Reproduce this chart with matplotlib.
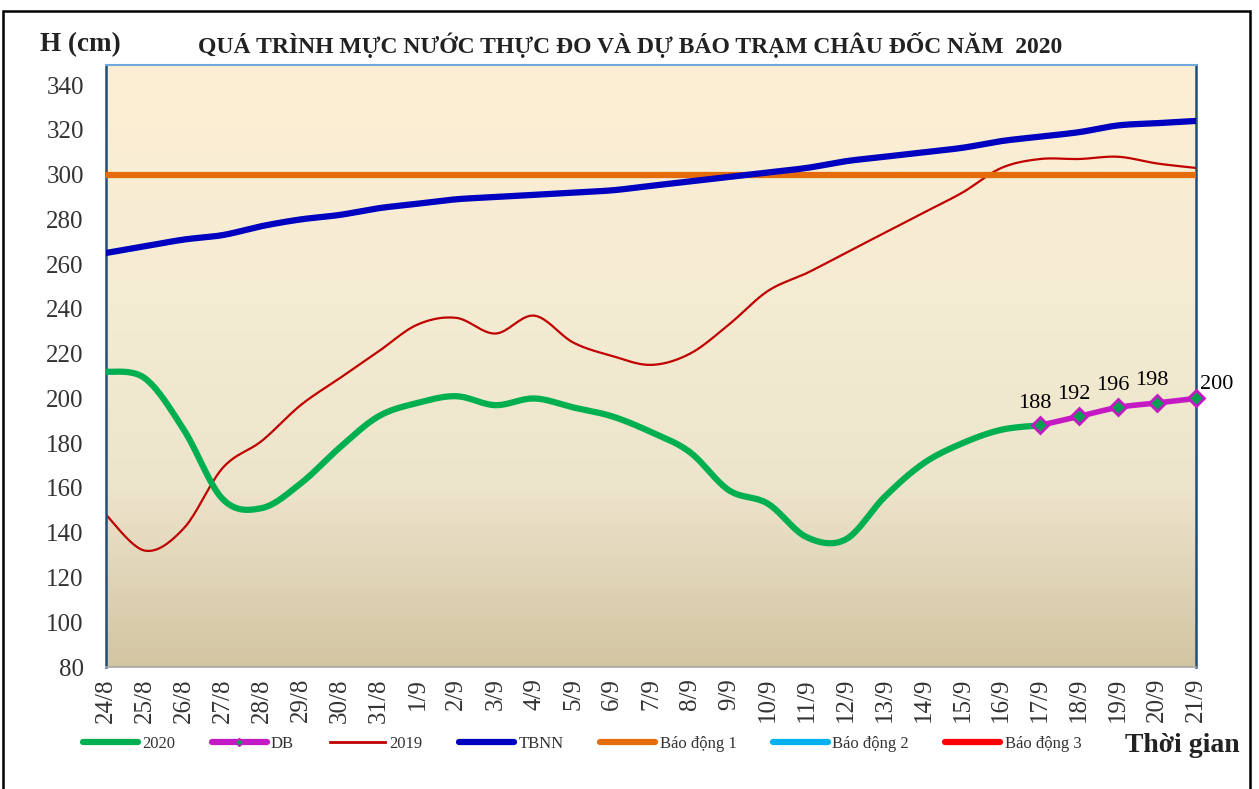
import numpy as np
import matplotlib.pyplot as plt
from matplotlib.lines import Line2D
from matplotlib.patches import Rectangle
from matplotlib.colors import LinearSegmentedColormap

plt.rcParams['font.family'] = ['Liberation Serif', 'DejaVu Serif']

# Dates on the x axis
dates = ["24/8", "25/8", "26/8", "27/8", "28/8", "29/8", "30/8", "31/8",
         "1/9", "2/9", "3/9", "4/9", "5/9", "6/9", "7/9", "8/9", "9/9", "10/9",
         "11/9", "12/9", "13/9", "14/9", "15/9", "16/9", "17/9", "18/9", "19/9",
         "20/9", "21/9"]

# Measured water level 2020 (to 17/9)
h2020 = [212, 209, 186, 155, 151, 162, 178, 192, 198, 201, 197, 200, 196, 192,
         185, 176, 159, 153, 138, 137, 156, 171, 180, 186, 188]
# Forecast (DB) 17/9 - 21/9
db = [188, 192, 196, 198, 200]
# 2019 water level
h2019 = [148, 132, 142, 169, 181, 197, 209, 221, 233, 236, 229, 237, 225, 219,
         215, 220, 233, 248, 256, 265, 274, 283, 292, 303, 307, 307, 308, 305, 303]
# long-term average (TBNN)
tbnn = [265, 268, 271, 273, 277, 280, 282, 285, 287, 289, 290, 291, 292, 293,
        295, 297, 299, 301, 303, 306, 308, 310, 312, 315, 317, 319, 322, 323, 324]
# alarm levels
bd1 = 300
bd2 = 400
bd3 = 450


# Excel-like smoothed line (Catmull-Rom through the data points)
def smooth(xs, ys, n=20):
    xs = np.asarray(xs, float)
    ys = np.asarray(ys, float)
    if len(xs) < 3:
        return xs, ys
    px = np.concatenate([[xs[0]], xs, [xs[-1]]])
    py = np.concatenate([[ys[0]], ys, [ys[-1]]])
    outx, outy = [], []
    t = np.linspace(0, 1, n, endpoint=False)
    for i in range(1, len(px) - 2):
        for p, out in ((px, outx), (py, outy)):
            p0, p1, p2, p3 = p[i - 1], p[i], p[i + 1], p[i + 2]
            c1 = p1 + (p2 - p0) / 6
            c2 = p2 - (p3 - p1) / 6
            out.extend((1 - t) ** 3 * p1 + 3 * (1 - t) ** 2 * t * c1 + 3 * (1 - t) * t ** 2 * c2 + t ** 3 * p2)
    outx.append(xs[-1])
    outy.append(ys[-1])
    return np.array(outx), np.array(outy)


fig = plt.figure(figsize=(12.59, 7.89), dpi=100)
ax = fig.add_axes([106 / 1259, 1 - 667 / 789, (1196 - 106) / 1259, (667 - 65) / 789])

n = len(dates)
x = np.arange(n)
ymin, ymax = 80, 349

# gradient background
cmap = LinearSegmentedColormap.from_list("bg", [(0, "#D3C5A2"), (0.3, "#EDE4CC"), (0.6, "#F4EBD3"), (1, "#FDEFD3")])
grad = np.linspace(0, 1, 256).reshape(-1, 1)
ax.imshow(grad, aspect="auto", cmap=cmap, origin="lower", extent=[0, n - 1, ymin, ymax], zorder=0)

green = "#00B050"
magenta = "#C41AC4"

sx, sy = smooth(x, h2019)
ax.plot(sx, sy, color="#C00000", lw=1.6, zorder=2)
ax.axhline(bd1, color="#E46C0A", lw=4.5, zorder=3)
ax.axhline(bd2, color="#00B0F0", lw=4.5, zorder=3)
ax.axhline(bd3, color="#FF0000", lw=4.5, zorder=3)
sx, sy = smooth(x, tbnn)
ax.plot(sx, sy, color="#0000C0", lw=4.5, zorder=4)
sx, sy = smooth(x[:len(h2020)], h2020)
ax.plot(sx, sy, color=green, lw=4.5, zorder=5, solid_capstyle="butt")
xdb = x[len(h2020) - 1:]
sx, sy = smooth(xdb, db)
ax.plot(sx, sy, color=magenta, lw=4, zorder=6)
ax.plot(xdb, db, ls="none", marker="D", ms=8, mfc="#00A050", mec=magenta, mew=2, zorder=7, clip_on=False)

for i, (xi, v) in enumerate(zip(xdb, db)):
    if i == len(db) - 1:
        ax.annotate(str(v), (xi, v), xytext=(15, 10), textcoords="offset points",
                    ha="center", va="center", fontsize=16, clip_on=False)
    else:
        ax.annotate(str(v), (xi, v), xytext=(-4, 16), textcoords="offset points",
                    ha="center", va="center", fontsize=16)

ax.set_xlim(0, n - 1)
ax.set_ylim(ymin, ymax)
ax.set_yticks(range(80, 341, 20))
ax.set_xticks(x)
ax.set_xticklabels(dates, rotation=90)
ax.tick_params(axis="y", length=0, pad=16, labelsize=18, colors="#333333")
ax.tick_params(axis="x", length=0, pad=8, labelsize=18, colors="#333333")
for s in ("left", "right"):
    ax.spines[s].set_color("#1F4E79")
    ax.spines[s].set_linewidth(1.8)
ax.spines["top"].set_color("#6FA8DC")
ax.spines["top"].set_linewidth(1.5)
ax.spines["bottom"].set_color("#A6A6A6")
ax.spines["bottom"].set_linewidth(1.2)

fig.text(630 / 1259, 1 - 45 / 789, "QUÁ TRÌNH MỰC NƯỚC THỰC ĐO VÀ DỰ BÁO TRẠM CHÂU ĐỐC NĂM  2020",
         ha="center", va="center", fontsize=17, fontweight="bold", color="#222222")
fig.text(40 / 1259, 1 - 45 / 789, "H (cm)", ha="left", va="center", fontsize=19.5,
         fontweight="bold", color="#222222")
fig.text(1240 / 1259, 1 - 745 / 789, "Thời gian", ha="right", va="center", fontsize=20,
         fontweight="bold", color="#222222")

handles = [
    Line2D([], [], color=green, lw=4.5, solid_capstyle="round"),
    Line2D([], [], color=magenta, lw=4.5, marker="D", ms=4, mfc="#00A050", mec=magenta,
           markevery=[1], solid_capstyle="round"),
    Line2D([], [], color="#C00000", lw=2),
    Line2D([], [], color="#0000C0", lw=4.5, solid_capstyle="round"),
    Line2D([], [], color="#E46C0A", lw=4.5, solid_capstyle="round"),
    Line2D([], [], color="#00B0F0", lw=4.5, solid_capstyle="round"),
    Line2D([], [], color="#FF0000", lw=4.5, solid_capstyle="round"),
]
labels = ["2020", "DB", "2019", "TBNN", "Báo động 1", "Báo động 2", "Báo động 3"]
leg = fig.legend(handles, labels, ncol=7, loc="center", bbox_to_anchor=(582 / 1259, 1 - 744 / 789),
                 frameon=False, fontsize=12, handlelength=3.3, handletextpad=0.25, columnspacing=2.2)
for t in leg.get_texts():
    t.set_color("#333333")

fig.patches.append(Rectangle((3 / 1259, -0.02), (1250 - 3) / 1259, 1.02 - 11 / 789,
                             transform=fig.transFigure, fill=False, ec="black", lw=1.8))

fig.savefig("out.png", dpi=100)
